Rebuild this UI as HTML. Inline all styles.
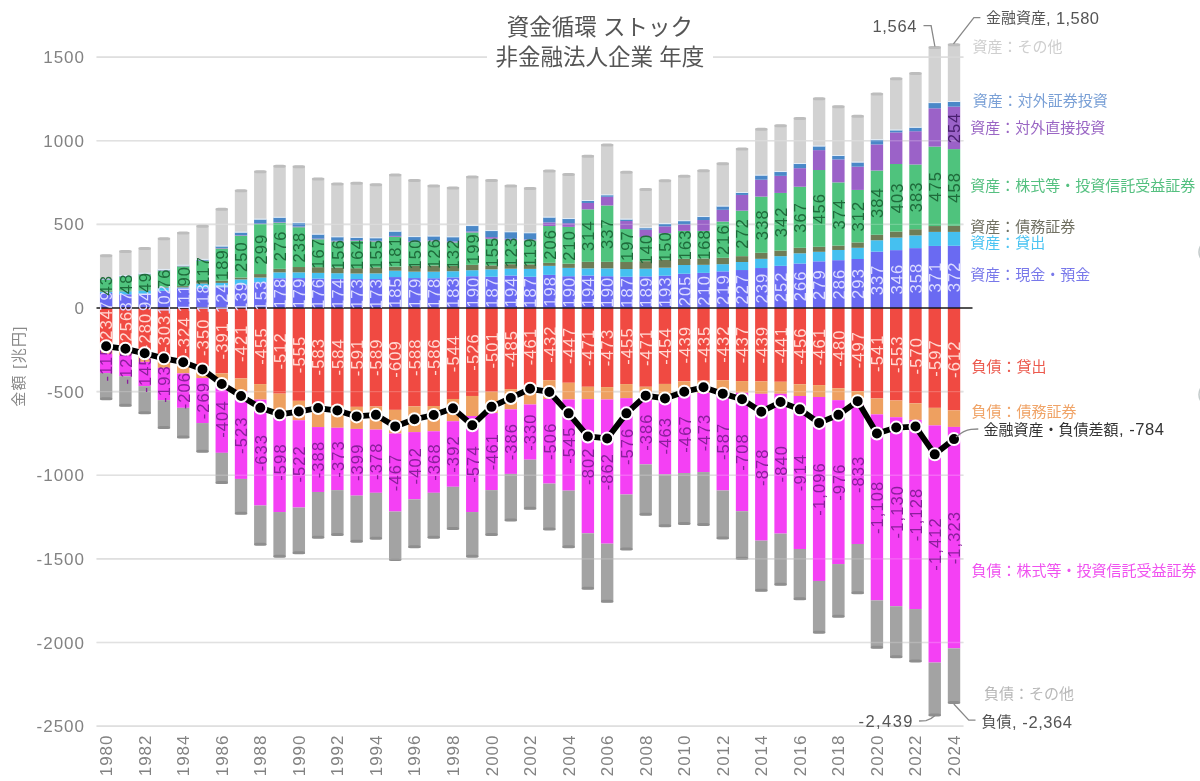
<!DOCTYPE html><html><head><meta charset="utf-8"><title>資金循環 ストック 非金融法人企業 年度</title>
<style>html,body{margin:0;padding:0;background:#fff;}svg{display:block;filter:blur(0.6px);}text{font-family:"Liberation Sans", "Noto Sans CJK JP", sans-serif;}</style></head><body>
<svg width="1200" height="781" viewBox="0 0 1200 781">
<rect width="1200" height="781" fill="#fff"/>
<g stroke="#dadada" stroke-width="1.6">
<line x1="96.5" x2="963.5" y1="57.12" y2="57.12"/>
<line x1="96.5" x2="963.5" y1="140.75" y2="140.75"/>
<line x1="96.5" x2="963.5" y1="224.38" y2="224.38"/>
<line x1="96.5" x2="963.5" y1="391.62" y2="391.62"/>
<line x1="96.5" x2="963.5" y1="475.25" y2="475.25"/>
<line x1="96.5" x2="963.5" y1="558.88" y2="558.88"/>
<line x1="96.5" x2="963.5" y1="642.50" y2="642.50"/>
<line x1="96.5" x2="963.5" y1="726.12" y2="726.12"/>
</g>
<g fill="#828282" font-size="17" text-anchor="end">
<text x="85" y="57.62" dominant-baseline="central" letter-spacing="1">1500</text>
<text x="85" y="141.25" dominant-baseline="central" letter-spacing="1">1000</text>
<text x="85" y="224.88" dominant-baseline="central" letter-spacing="1">500</text>
<text x="85" y="308.50" dominant-baseline="central" letter-spacing="1">0</text>
<text x="85" y="392.12" dominant-baseline="central" letter-spacing="1">-500</text>
<text x="85" y="475.75" dominant-baseline="central" letter-spacing="1">-1000</text>
<text x="85" y="559.38" dominant-baseline="central" letter-spacing="1">-1500</text>
<text x="85" y="643.00" dominant-baseline="central" letter-spacing="1">-2000</text>
<text x="85" y="726.62" dominant-baseline="central" letter-spacing="1">-2500</text>
</g>
<text transform="translate(18,366) rotate(-90)" text-anchor="middle" dominant-baseline="central" font-size="15" letter-spacing="1.3" fill="#8a8a8a" font-family='"Liberation Sans", "Noto Sans CJK JP", sans-serif'>金額 [兆円]</text>
<g><rect x="99.94" y="292.95" width="12.40" height="15.05" fill="#6a6af2"/><rect x="99.94" y="291.61" width="12.40" height="1.34" fill="#45c0f0"/><rect x="99.94" y="290.77" width="12.40" height="0.84" fill="#6e7c56"/><rect x="99.94" y="279.90" width="12.40" height="10.87" fill="#4fc37d"/><rect x="99.94" y="279.57" width="12.40" height="0.33" fill="#9b62c8"/><rect x="99.94" y="279.07" width="12.40" height="0.50" fill="#4a88c8"/><rect x="99.94" y="254.65" width="12.40" height="24.42" fill="#d2d2d2"/><rect x="99.94" y="308.00" width="12.40" height="39.14" fill="#f04a42"/><rect x="99.94" y="347.14" width="12.40" height="6.69" fill="#eea060"/><rect x="99.94" y="353.83" width="12.40" height="19.23" fill="#f440f4"/><rect x="99.94" y="373.06" width="12.40" height="26.59" fill="#a3a3a3"/><rect x="99.94" y="278.27" width="12.40" height="1" fill="#e6f2ff" opacity="0.8"/><rect x="99.94" y="254.15" width="12.40" height="3" rx="2.5" fill="#bdbdbd"/><rect x="99.94" y="397.15" width="12.40" height="3" rx="2.5" fill="#8e8e8e"/><rect x="119.20" y="294.29" width="12.40" height="13.71" fill="#6a6af2"/><rect x="119.20" y="291.27" width="12.40" height="3.01" fill="#45c0f0"/><rect x="119.20" y="290.77" width="12.40" height="0.50" fill="#6e7c56"/><rect x="119.20" y="276.72" width="12.40" height="14.05" fill="#4fc37d"/><rect x="119.20" y="276.39" width="12.40" height="0.33" fill="#9b62c8"/><rect x="119.20" y="275.89" width="12.40" height="0.50" fill="#4a88c8"/><rect x="119.20" y="250.47" width="12.40" height="25.42" fill="#d2d2d2"/><rect x="119.20" y="308.00" width="12.40" height="42.82" fill="#f04a42"/><rect x="119.20" y="350.82" width="12.40" height="4.52" fill="#eea060"/><rect x="119.20" y="355.33" width="12.40" height="20.91" fill="#f440f4"/><rect x="119.20" y="376.24" width="12.40" height="30.11" fill="#a3a3a3"/><rect x="119.20" y="275.09" width="12.40" height="1" fill="#e6f2ff" opacity="0.8"/><rect x="119.20" y="249.97" width="12.40" height="3" rx="2.5" fill="#bdbdbd"/><rect x="119.20" y="403.84" width="12.40" height="3" rx="2.5" fill="#8e8e8e"/><rect x="138.48" y="293.62" width="12.40" height="14.38" fill="#6a6af2"/><rect x="138.48" y="290.44" width="12.40" height="3.18" fill="#45c0f0"/><rect x="138.48" y="289.94" width="12.40" height="0.50" fill="#6e7c56"/><rect x="138.48" y="274.38" width="12.40" height="15.55" fill="#4fc37d"/><rect x="138.48" y="274.05" width="12.40" height="0.33" fill="#9b62c8"/><rect x="138.48" y="273.55" width="12.40" height="0.50" fill="#4a88c8"/><rect x="138.48" y="247.46" width="12.40" height="26.09" fill="#d2d2d2"/><rect x="138.48" y="308.00" width="12.40" height="46.83" fill="#f04a42"/><rect x="138.48" y="354.83" width="12.40" height="7.02" fill="#eea060"/><rect x="138.48" y="361.85" width="12.40" height="24.25" fill="#f440f4"/><rect x="138.48" y="386.11" width="12.40" height="27.76" fill="#a3a3a3"/><rect x="138.48" y="272.75" width="12.40" height="1" fill="#e6f2ff" opacity="0.8"/><rect x="138.48" y="246.96" width="12.40" height="3" rx="2.5" fill="#bdbdbd"/><rect x="138.48" y="411.37" width="12.40" height="3" rx="2.5" fill="#8e8e8e"/><rect x="157.75" y="290.77" width="12.40" height="17.23" fill="#6a6af2"/><rect x="157.75" y="287.60" width="12.40" height="3.18" fill="#45c0f0"/><rect x="157.75" y="286.93" width="12.40" height="0.67" fill="#6e7c56"/><rect x="157.75" y="270.54" width="12.40" height="16.39" fill="#4fc37d"/><rect x="157.75" y="270.20" width="12.40" height="0.33" fill="#9b62c8"/><rect x="157.75" y="269.70" width="12.40" height="0.50" fill="#4a88c8"/><rect x="157.75" y="237.75" width="12.40" height="31.94" fill="#d2d2d2"/><rect x="157.75" y="308.00" width="12.40" height="50.68" fill="#f04a42"/><rect x="157.75" y="358.68" width="12.40" height="9.20" fill="#eea060"/><rect x="157.75" y="367.88" width="12.40" height="32.28" fill="#f440f4"/><rect x="157.75" y="400.15" width="12.40" height="28.43" fill="#a3a3a3"/><rect x="157.75" y="268.90" width="12.40" height="1" fill="#e6f2ff" opacity="0.8"/><rect x="157.75" y="237.25" width="12.40" height="3" rx="2.5" fill="#bdbdbd"/><rect x="157.75" y="426.09" width="12.40" height="3" rx="2.5" fill="#8e8e8e"/><rect x="177.02" y="288.26" width="12.40" height="19.74" fill="#6a6af2"/><rect x="177.02" y="287.43" width="12.40" height="0.84" fill="#45c0f0"/><rect x="177.02" y="286.09" width="12.40" height="1.34" fill="#6e7c56"/><rect x="177.02" y="266.35" width="12.40" height="19.74" fill="#4fc37d"/><rect x="177.02" y="266.02" width="12.40" height="0.33" fill="#9b62c8"/><rect x="177.02" y="265.52" width="12.40" height="0.50" fill="#4a88c8"/><rect x="177.02" y="232.07" width="12.40" height="33.45" fill="#d2d2d2"/><rect x="177.02" y="308.00" width="12.40" height="54.19" fill="#f04a42"/><rect x="177.02" y="362.19" width="12.40" height="11.21" fill="#eea060"/><rect x="177.02" y="373.39" width="12.40" height="34.45" fill="#f440f4"/><rect x="177.02" y="407.85" width="12.40" height="30.27" fill="#a3a3a3"/><rect x="177.02" y="264.72" width="12.40" height="1" fill="#e6f2ff" opacity="0.8"/><rect x="177.02" y="231.57" width="12.40" height="3" rx="2.5" fill="#bdbdbd"/><rect x="177.02" y="435.62" width="12.40" height="3" rx="2.5" fill="#8e8e8e"/><rect x="196.29" y="288.26" width="12.40" height="19.74" fill="#6a6af2"/><rect x="196.29" y="283.58" width="12.40" height="4.68" fill="#45c0f0"/><rect x="196.29" y="280.74" width="12.40" height="2.84" fill="#6e7c56"/><rect x="196.29" y="261.00" width="12.40" height="19.74" fill="#4fc37d"/><rect x="196.29" y="260.67" width="12.40" height="0.33" fill="#9b62c8"/><rect x="196.29" y="259.66" width="12.40" height="1.00" fill="#4a88c8"/><rect x="196.29" y="225.21" width="12.40" height="34.45" fill="#d2d2d2"/><rect x="196.29" y="308.00" width="12.40" height="58.54" fill="#f04a42"/><rect x="196.29" y="366.54" width="12.40" height="11.54" fill="#eea060"/><rect x="196.29" y="378.08" width="12.40" height="44.99" fill="#f440f4"/><rect x="196.29" y="423.07" width="12.40" height="29.10" fill="#a3a3a3"/><rect x="196.29" y="258.86" width="12.40" height="1" fill="#e6f2ff" opacity="0.8"/><rect x="196.29" y="224.71" width="12.40" height="3" rx="2.5" fill="#bdbdbd"/><rect x="196.29" y="449.67" width="12.40" height="3" rx="2.5" fill="#8e8e8e"/><rect x="215.56" y="287.26" width="12.40" height="20.74" fill="#6a6af2"/><rect x="215.56" y="282.91" width="12.40" height="4.35" fill="#45c0f0"/><rect x="215.56" y="280.74" width="12.40" height="2.17" fill="#6e7c56"/><rect x="215.56" y="248.46" width="12.40" height="32.28" fill="#4fc37d"/><rect x="215.56" y="247.96" width="12.40" height="0.50" fill="#9b62c8"/><rect x="215.56" y="246.28" width="12.40" height="1.67" fill="#4a88c8"/><rect x="215.56" y="208.32" width="12.40" height="37.97" fill="#d2d2d2"/><rect x="215.56" y="308.00" width="12.40" height="65.39" fill="#f04a42"/><rect x="215.56" y="373.39" width="12.40" height="11.87" fill="#eea060"/><rect x="215.56" y="385.27" width="12.40" height="67.57" fill="#f440f4"/><rect x="215.56" y="452.84" width="12.40" height="30.77" fill="#a3a3a3"/><rect x="215.56" y="245.48" width="12.40" height="1" fill="#e6f2ff" opacity="0.8"/><rect x="215.56" y="207.82" width="12.40" height="3" rx="2.5" fill="#bdbdbd"/><rect x="215.56" y="481.11" width="12.40" height="3" rx="2.5" fill="#8e8e8e"/><rect x="234.83" y="284.75" width="12.40" height="23.25" fill="#6a6af2"/><rect x="234.83" y="279.40" width="12.40" height="5.35" fill="#45c0f0"/><rect x="234.83" y="277.56" width="12.40" height="1.84" fill="#6e7c56"/><rect x="234.83" y="235.75" width="12.40" height="41.81" fill="#4fc37d"/><rect x="234.83" y="235.25" width="12.40" height="0.50" fill="#9b62c8"/><rect x="234.83" y="232.40" width="12.40" height="2.84" fill="#4a88c8"/><rect x="234.83" y="189.75" width="12.40" height="42.65" fill="#d2d2d2"/><rect x="234.83" y="308.00" width="12.40" height="70.41" fill="#f04a42"/><rect x="234.83" y="378.41" width="12.40" height="13.05" fill="#eea060"/><rect x="234.83" y="391.46" width="12.40" height="87.47" fill="#f440f4"/><rect x="234.83" y="478.93" width="12.40" height="35.29" fill="#a3a3a3"/><rect x="234.83" y="231.60" width="12.40" height="1" fill="#e6f2ff" opacity="0.8"/><rect x="234.83" y="189.25" width="12.40" height="3" rx="2.5" fill="#bdbdbd"/><rect x="234.83" y="511.72" width="12.40" height="3" rx="2.5" fill="#8e8e8e"/><rect x="254.09" y="282.41" width="12.40" height="25.59" fill="#6a6af2"/><rect x="254.09" y="277.56" width="12.40" height="4.85" fill="#45c0f0"/><rect x="254.09" y="274.05" width="12.40" height="3.51" fill="#6e7c56"/><rect x="254.09" y="224.04" width="12.40" height="50.01" fill="#4fc37d"/><rect x="254.09" y="223.54" width="12.40" height="0.50" fill="#9b62c8"/><rect x="254.09" y="219.36" width="12.40" height="4.18" fill="#4a88c8"/><rect x="254.09" y="170.69" width="12.40" height="48.67" fill="#d2d2d2"/><rect x="254.09" y="308.00" width="12.40" height="76.10" fill="#f04a42"/><rect x="254.09" y="384.10" width="12.40" height="15.55" fill="#eea060"/><rect x="254.09" y="399.65" width="12.40" height="105.87" fill="#f440f4"/><rect x="254.09" y="505.52" width="12.40" height="39.64" fill="#a3a3a3"/><rect x="254.09" y="218.56" width="12.40" height="1" fill="#e6f2ff" opacity="0.8"/><rect x="254.09" y="170.19" width="12.40" height="3" rx="2.5" fill="#bdbdbd"/><rect x="254.09" y="542.66" width="12.40" height="3" rx="2.5" fill="#8e8e8e"/><rect x="273.37" y="278.23" width="12.40" height="29.77" fill="#6a6af2"/><rect x="273.37" y="272.38" width="12.40" height="5.85" fill="#45c0f0"/><rect x="273.37" y="268.86" width="12.40" height="3.51" fill="#6e7c56"/><rect x="273.37" y="222.70" width="12.40" height="46.16" fill="#4fc37d"/><rect x="273.37" y="222.20" width="12.40" height="0.50" fill="#9b62c8"/><rect x="273.37" y="217.52" width="12.40" height="4.68" fill="#4a88c8"/><rect x="273.37" y="165.17" width="12.40" height="52.35" fill="#d2d2d2"/><rect x="273.37" y="308.00" width="12.40" height="85.63" fill="#f04a42"/><rect x="273.37" y="393.63" width="12.40" height="18.40" fill="#eea060"/><rect x="273.37" y="412.03" width="12.40" height="100.02" fill="#f440f4"/><rect x="273.37" y="512.05" width="12.40" height="45.16" fill="#a3a3a3"/><rect x="273.37" y="216.72" width="12.40" height="1" fill="#e6f2ff" opacity="0.8"/><rect x="273.37" y="164.67" width="12.40" height="3" rx="2.5" fill="#bdbdbd"/><rect x="273.37" y="554.70" width="12.40" height="3" rx="2.5" fill="#8e8e8e"/><rect x="292.64" y="278.06" width="12.40" height="29.94" fill="#6a6af2"/><rect x="292.64" y="272.38" width="12.40" height="5.69" fill="#45c0f0"/><rect x="292.64" y="267.02" width="12.40" height="5.35" fill="#6e7c56"/><rect x="292.64" y="227.22" width="12.40" height="39.81" fill="#4fc37d"/><rect x="292.64" y="226.55" width="12.40" height="0.67" fill="#9b62c8"/><rect x="292.64" y="223.04" width="12.40" height="3.51" fill="#4a88c8"/><rect x="292.64" y="165.67" width="12.40" height="57.37" fill="#d2d2d2"/><rect x="292.64" y="308.00" width="12.40" height="92.82" fill="#f04a42"/><rect x="292.64" y="400.82" width="12.40" height="19.40" fill="#eea060"/><rect x="292.64" y="420.22" width="12.40" height="87.30" fill="#f440f4"/><rect x="292.64" y="507.53" width="12.40" height="46.33" fill="#a3a3a3"/><rect x="292.64" y="222.24" width="12.40" height="1" fill="#e6f2ff" opacity="0.8"/><rect x="292.64" y="165.17" width="12.40" height="3" rx="2.5" fill="#bdbdbd"/><rect x="292.64" y="551.36" width="12.40" height="3" rx="2.5" fill="#8e8e8e"/><rect x="311.91" y="278.56" width="12.40" height="29.44" fill="#6a6af2"/><rect x="311.91" y="272.88" width="12.40" height="5.69" fill="#45c0f0"/><rect x="311.91" y="267.19" width="12.40" height="5.69" fill="#6e7c56"/><rect x="311.91" y="239.26" width="12.40" height="27.93" fill="#4fc37d"/><rect x="311.91" y="238.59" width="12.40" height="0.67" fill="#9b62c8"/><rect x="311.91" y="234.41" width="12.40" height="4.18" fill="#4a88c8"/><rect x="311.91" y="177.88" width="12.40" height="56.53" fill="#d2d2d2"/><rect x="311.91" y="308.00" width="12.40" height="97.51" fill="#f04a42"/><rect x="311.91" y="405.51" width="12.40" height="21.58" fill="#eea060"/><rect x="311.91" y="427.08" width="12.40" height="64.89" fill="#f440f4"/><rect x="311.91" y="491.98" width="12.40" height="46.16" fill="#a3a3a3"/><rect x="311.91" y="233.61" width="12.40" height="1" fill="#e6f2ff" opacity="0.8"/><rect x="311.91" y="177.38" width="12.40" height="3" rx="2.5" fill="#bdbdbd"/><rect x="311.91" y="535.64" width="12.40" height="3" rx="2.5" fill="#8e8e8e"/><rect x="331.18" y="278.90" width="12.40" height="29.10" fill="#6a6af2"/><rect x="331.18" y="273.21" width="12.40" height="5.69" fill="#45c0f0"/><rect x="331.18" y="267.53" width="12.40" height="5.69" fill="#6e7c56"/><rect x="331.18" y="241.43" width="12.40" height="26.09" fill="#4fc37d"/><rect x="331.18" y="240.77" width="12.40" height="0.67" fill="#9b62c8"/><rect x="331.18" y="237.09" width="12.40" height="3.68" fill="#4a88c8"/><rect x="331.18" y="183.06" width="12.40" height="54.02" fill="#d2d2d2"/><rect x="331.18" y="308.00" width="12.40" height="97.67" fill="#f04a42"/><rect x="331.18" y="405.67" width="12.40" height="22.08" fill="#eea060"/><rect x="331.18" y="427.75" width="12.40" height="62.38" fill="#f440f4"/><rect x="331.18" y="490.14" width="12.40" height="45.32" fill="#a3a3a3"/><rect x="331.18" y="236.29" width="12.40" height="1" fill="#e6f2ff" opacity="0.8"/><rect x="331.18" y="182.56" width="12.40" height="3" rx="2.5" fill="#bdbdbd"/><rect x="331.18" y="532.96" width="12.40" height="3" rx="2.5" fill="#8e8e8e"/><rect x="350.44" y="279.07" width="12.40" height="28.93" fill="#6a6af2"/><rect x="350.44" y="273.55" width="12.40" height="5.52" fill="#45c0f0"/><rect x="350.44" y="268.19" width="12.40" height="5.35" fill="#6e7c56"/><rect x="350.44" y="240.77" width="12.40" height="27.43" fill="#4fc37d"/><rect x="350.44" y="240.10" width="12.40" height="0.67" fill="#9b62c8"/><rect x="350.44" y="237.59" width="12.40" height="2.51" fill="#4a88c8"/><rect x="350.44" y="182.23" width="12.40" height="55.36" fill="#d2d2d2"/><rect x="350.44" y="308.00" width="12.40" height="98.84" fill="#f04a42"/><rect x="350.44" y="406.84" width="12.40" height="22.08" fill="#eea060"/><rect x="350.44" y="428.92" width="12.40" height="66.73" fill="#f440f4"/><rect x="350.44" y="495.65" width="12.40" height="46.50" fill="#a3a3a3"/><rect x="350.44" y="236.79" width="12.40" height="1" fill="#e6f2ff" opacity="0.8"/><rect x="350.44" y="181.73" width="12.40" height="3" rx="2.5" fill="#bdbdbd"/><rect x="350.44" y="539.65" width="12.40" height="3" rx="2.5" fill="#8e8e8e"/><rect x="369.72" y="279.07" width="12.40" height="28.93" fill="#6a6af2"/><rect x="369.72" y="273.38" width="12.40" height="5.69" fill="#45c0f0"/><rect x="369.72" y="267.36" width="12.40" height="6.02" fill="#6e7c56"/><rect x="369.72" y="241.43" width="12.40" height="25.92" fill="#4fc37d"/><rect x="369.72" y="240.77" width="12.40" height="0.67" fill="#9b62c8"/><rect x="369.72" y="238.09" width="12.40" height="2.68" fill="#4a88c8"/><rect x="369.72" y="183.73" width="12.40" height="54.36" fill="#d2d2d2"/><rect x="369.72" y="308.00" width="12.40" height="98.51" fill="#f04a42"/><rect x="369.72" y="406.51" width="12.40" height="23.08" fill="#eea060"/><rect x="369.72" y="429.59" width="12.40" height="63.22" fill="#f440f4"/><rect x="369.72" y="492.81" width="12.40" height="46.33" fill="#a3a3a3"/><rect x="369.72" y="237.29" width="12.40" height="1" fill="#e6f2ff" opacity="0.8"/><rect x="369.72" y="183.23" width="12.40" height="3" rx="2.5" fill="#bdbdbd"/><rect x="369.72" y="536.64" width="12.40" height="3" rx="2.5" fill="#8e8e8e"/><rect x="388.99" y="277.06" width="12.40" height="30.94" fill="#6a6af2"/><rect x="388.99" y="270.70" width="12.40" height="6.36" fill="#45c0f0"/><rect x="388.99" y="266.69" width="12.40" height="4.01" fill="#6e7c56"/><rect x="388.99" y="236.75" width="12.40" height="29.94" fill="#4fc37d"/><rect x="388.99" y="235.92" width="12.40" height="0.84" fill="#9b62c8"/><rect x="388.99" y="231.40" width="12.40" height="4.52" fill="#4a88c8"/><rect x="388.99" y="174.03" width="12.40" height="57.37" fill="#d2d2d2"/><rect x="388.99" y="308.00" width="12.40" height="101.86" fill="#f04a42"/><rect x="388.99" y="409.86" width="12.40" height="23.58" fill="#eea060"/><rect x="388.99" y="433.44" width="12.40" height="78.11" fill="#f440f4"/><rect x="388.99" y="511.54" width="12.40" height="48.84" fill="#a3a3a3"/><rect x="388.99" y="230.60" width="12.40" height="1" fill="#e6f2ff" opacity="0.8"/><rect x="388.99" y="173.53" width="12.40" height="3" rx="2.5" fill="#bdbdbd"/><rect x="388.99" y="557.88" width="12.40" height="3" rx="2.5" fill="#8e8e8e"/><rect x="408.25" y="278.06" width="12.40" height="29.94" fill="#6a6af2"/><rect x="408.25" y="271.71" width="12.40" height="6.36" fill="#45c0f0"/><rect x="408.25" y="265.85" width="12.40" height="5.85" fill="#6e7c56"/><rect x="408.25" y="242.10" width="12.40" height="23.75" fill="#4fc37d"/><rect x="408.25" y="241.27" width="12.40" height="0.84" fill="#9b62c8"/><rect x="408.25" y="236.92" width="12.40" height="4.35" fill="#4a88c8"/><rect x="408.25" y="179.38" width="12.40" height="57.53" fill="#d2d2d2"/><rect x="408.25" y="308.00" width="12.40" height="98.34" fill="#f04a42"/><rect x="408.25" y="406.34" width="12.40" height="25.76" fill="#eea060"/><rect x="408.25" y="432.10" width="12.40" height="67.23" fill="#f440f4"/><rect x="408.25" y="499.33" width="12.40" height="48.50" fill="#a3a3a3"/><rect x="408.25" y="236.12" width="12.40" height="1" fill="#e6f2ff" opacity="0.8"/><rect x="408.25" y="178.88" width="12.40" height="3" rx="2.5" fill="#bdbdbd"/><rect x="408.25" y="545.34" width="12.40" height="3" rx="2.5" fill="#8e8e8e"/><rect x="427.52" y="278.23" width="12.40" height="29.77" fill="#6a6af2"/><rect x="427.52" y="271.71" width="12.40" height="6.52" fill="#45c0f0"/><rect x="427.52" y="265.52" width="12.40" height="6.19" fill="#6e7c56"/><rect x="427.52" y="241.27" width="12.40" height="24.25" fill="#4fc37d"/><rect x="427.52" y="240.43" width="12.40" height="0.84" fill="#9b62c8"/><rect x="427.52" y="236.25" width="12.40" height="4.18" fill="#4a88c8"/><rect x="427.52" y="184.90" width="12.40" height="51.35" fill="#d2d2d2"/><rect x="427.52" y="308.00" width="12.40" height="98.01" fill="#f04a42"/><rect x="427.52" y="406.01" width="12.40" height="25.25" fill="#eea060"/><rect x="427.52" y="431.26" width="12.40" height="61.55" fill="#f440f4"/><rect x="427.52" y="492.81" width="12.40" height="45.32" fill="#a3a3a3"/><rect x="427.52" y="235.45" width="12.40" height="1" fill="#e6f2ff" opacity="0.8"/><rect x="427.52" y="184.40" width="12.40" height="3" rx="2.5" fill="#bdbdbd"/><rect x="427.52" y="535.64" width="12.40" height="3" rx="2.5" fill="#8e8e8e"/><rect x="446.80" y="277.39" width="12.40" height="30.61" fill="#6a6af2"/><rect x="446.80" y="271.20" width="12.40" height="6.19" fill="#45c0f0"/><rect x="446.80" y="265.85" width="12.40" height="5.35" fill="#6e7c56"/><rect x="446.80" y="242.44" width="12.40" height="23.42" fill="#4fc37d"/><rect x="446.80" y="241.43" width="12.40" height="1.00" fill="#9b62c8"/><rect x="446.80" y="237.09" width="12.40" height="4.35" fill="#4a88c8"/><rect x="446.80" y="186.91" width="12.40" height="50.18" fill="#d2d2d2"/><rect x="446.80" y="308.00" width="12.40" height="90.98" fill="#f04a42"/><rect x="446.80" y="398.98" width="12.40" height="22.24" fill="#eea060"/><rect x="446.80" y="421.23" width="12.40" height="65.56" fill="#f440f4"/><rect x="446.80" y="486.79" width="12.40" height="42.65" fill="#a3a3a3"/><rect x="446.80" y="236.29" width="12.40" height="1" fill="#e6f2ff" opacity="0.8"/><rect x="446.80" y="186.41" width="12.40" height="3" rx="2.5" fill="#bdbdbd"/><rect x="446.80" y="526.94" width="12.40" height="3" rx="2.5" fill="#8e8e8e"/><rect x="466.06" y="276.22" width="12.40" height="31.78" fill="#6a6af2"/><rect x="466.06" y="270.20" width="12.40" height="6.02" fill="#45c0f0"/><rect x="466.06" y="264.85" width="12.40" height="5.35" fill="#6e7c56"/><rect x="466.06" y="232.40" width="12.40" height="32.45" fill="#4fc37d"/><rect x="466.06" y="231.40" width="12.40" height="1.00" fill="#9b62c8"/><rect x="466.06" y="225.88" width="12.40" height="5.52" fill="#4a88c8"/><rect x="466.06" y="176.04" width="12.40" height="49.84" fill="#d2d2d2"/><rect x="466.06" y="308.00" width="12.40" height="87.97" fill="#f04a42"/><rect x="466.06" y="395.97" width="12.40" height="20.07" fill="#eea060"/><rect x="466.06" y="416.04" width="12.40" height="96.00" fill="#f440f4"/><rect x="466.06" y="512.05" width="12.40" height="45.16" fill="#a3a3a3"/><rect x="466.06" y="225.08" width="12.40" height="1" fill="#e6f2ff" opacity="0.8"/><rect x="466.06" y="175.54" width="12.40" height="3" rx="2.5" fill="#bdbdbd"/><rect x="466.06" y="554.70" width="12.40" height="3" rx="2.5" fill="#8e8e8e"/><rect x="485.33" y="276.72" width="12.40" height="31.28" fill="#6a6af2"/><rect x="485.33" y="269.37" width="12.40" height="7.36" fill="#45c0f0"/><rect x="485.33" y="265.35" width="12.40" height="4.01" fill="#6e7c56"/><rect x="485.33" y="238.76" width="12.40" height="26.59" fill="#4fc37d"/><rect x="485.33" y="237.09" width="12.40" height="1.67" fill="#9b62c8"/><rect x="485.33" y="230.90" width="12.40" height="6.19" fill="#4a88c8"/><rect x="485.33" y="179.38" width="12.40" height="51.51" fill="#d2d2d2"/><rect x="485.33" y="308.00" width="12.40" height="83.79" fill="#f04a42"/><rect x="485.33" y="391.79" width="12.40" height="21.24" fill="#eea060"/><rect x="485.33" y="413.03" width="12.40" height="77.10" fill="#f440f4"/><rect x="485.33" y="490.14" width="12.40" height="45.32" fill="#a3a3a3"/><rect x="485.33" y="230.10" width="12.40" height="1" fill="#e6f2ff" opacity="0.8"/><rect x="485.33" y="178.88" width="12.40" height="3" rx="2.5" fill="#bdbdbd"/><rect x="485.33" y="532.96" width="12.40" height="3" rx="2.5" fill="#8e8e8e"/><rect x="504.61" y="275.55" width="12.40" height="32.45" fill="#6a6af2"/><rect x="504.61" y="268.70" width="12.40" height="6.86" fill="#45c0f0"/><rect x="504.61" y="264.18" width="12.40" height="4.52" fill="#6e7c56"/><rect x="504.61" y="240.10" width="12.40" height="24.08" fill="#4fc37d"/><rect x="504.61" y="238.76" width="12.40" height="1.34" fill="#9b62c8"/><rect x="504.61" y="232.07" width="12.40" height="6.69" fill="#4a88c8"/><rect x="504.61" y="184.90" width="12.40" height="47.16" fill="#d2d2d2"/><rect x="504.61" y="308.00" width="12.40" height="81.12" fill="#f04a42"/><rect x="504.61" y="389.12" width="12.40" height="20.24" fill="#eea060"/><rect x="504.61" y="409.35" width="12.40" height="64.56" fill="#f440f4"/><rect x="504.61" y="473.91" width="12.40" height="47.16" fill="#a3a3a3"/><rect x="504.61" y="231.27" width="12.40" height="1" fill="#e6f2ff" opacity="0.8"/><rect x="504.61" y="184.40" width="12.40" height="3" rx="2.5" fill="#bdbdbd"/><rect x="504.61" y="518.58" width="12.40" height="3" rx="2.5" fill="#8e8e8e"/><rect x="523.88" y="276.72" width="12.40" height="31.28" fill="#6a6af2"/><rect x="523.88" y="268.86" width="12.40" height="7.86" fill="#45c0f0"/><rect x="523.88" y="264.35" width="12.40" height="4.52" fill="#6e7c56"/><rect x="523.88" y="240.43" width="12.40" height="23.92" fill="#4fc37d"/><rect x="523.88" y="239.43" width="12.40" height="1.00" fill="#9b62c8"/><rect x="523.88" y="233.07" width="12.40" height="6.36" fill="#4a88c8"/><rect x="523.88" y="187.41" width="12.40" height="45.66" fill="#d2d2d2"/><rect x="523.88" y="308.00" width="12.40" height="77.10" fill="#f04a42"/><rect x="523.88" y="385.10" width="12.40" height="19.40" fill="#eea060"/><rect x="523.88" y="404.50" width="12.40" height="55.19" fill="#f440f4"/><rect x="523.88" y="459.70" width="12.40" height="49.67" fill="#a3a3a3"/><rect x="523.88" y="232.27" width="12.40" height="1" fill="#e6f2ff" opacity="0.8"/><rect x="523.88" y="186.91" width="12.40" height="3" rx="2.5" fill="#bdbdbd"/><rect x="523.88" y="506.87" width="12.40" height="3" rx="2.5" fill="#8e8e8e"/><rect x="543.14" y="274.88" width="12.40" height="33.12" fill="#6a6af2"/><rect x="543.14" y="265.85" width="12.40" height="9.03" fill="#45c0f0"/><rect x="543.14" y="262.84" width="12.40" height="3.01" fill="#6e7c56"/><rect x="543.14" y="226.05" width="12.40" height="36.79" fill="#4fc37d"/><rect x="543.14" y="222.37" width="12.40" height="3.68" fill="#9b62c8"/><rect x="543.14" y="217.35" width="12.40" height="5.02" fill="#4a88c8"/><rect x="543.14" y="170.02" width="12.40" height="47.33" fill="#d2d2d2"/><rect x="543.14" y="308.00" width="12.40" height="72.25" fill="#f04a42"/><rect x="543.14" y="380.25" width="12.40" height="18.73" fill="#eea060"/><rect x="543.14" y="398.98" width="12.40" height="84.63" fill="#f440f4"/><rect x="543.14" y="483.61" width="12.40" height="46.33" fill="#a3a3a3"/><rect x="543.14" y="216.55" width="12.40" height="1" fill="#e6f2ff" opacity="0.8"/><rect x="543.14" y="169.52" width="12.40" height="3" rx="2.5" fill="#bdbdbd"/><rect x="543.14" y="527.44" width="12.40" height="3" rx="2.5" fill="#8e8e8e"/><rect x="562.41" y="276.22" width="12.40" height="31.78" fill="#6a6af2"/><rect x="562.41" y="267.86" width="12.40" height="8.36" fill="#45c0f0"/><rect x="562.41" y="263.68" width="12.40" height="4.18" fill="#6e7c56"/><rect x="562.41" y="226.88" width="12.40" height="36.79" fill="#4fc37d"/><rect x="562.41" y="223.20" width="12.40" height="3.68" fill="#9b62c8"/><rect x="562.41" y="218.86" width="12.40" height="4.35" fill="#4a88c8"/><rect x="562.41" y="173.53" width="12.40" height="45.32" fill="#d2d2d2"/><rect x="562.41" y="308.00" width="12.40" height="74.76" fill="#f04a42"/><rect x="562.41" y="382.76" width="12.40" height="16.72" fill="#eea060"/><rect x="562.41" y="399.49" width="12.40" height="91.15" fill="#f440f4"/><rect x="562.41" y="490.64" width="12.40" height="57.20" fill="#a3a3a3"/><rect x="562.41" y="218.06" width="12.40" height="1" fill="#e6f2ff" opacity="0.8"/><rect x="562.41" y="173.03" width="12.40" height="3" rx="2.5" fill="#bdbdbd"/><rect x="562.41" y="545.34" width="12.40" height="3" rx="2.5" fill="#8e8e8e"/><rect x="581.68" y="275.55" width="12.40" height="32.45" fill="#6a6af2"/><rect x="581.68" y="268.36" width="12.40" height="7.19" fill="#45c0f0"/><rect x="581.68" y="261.84" width="12.40" height="6.52" fill="#6e7c56"/><rect x="581.68" y="209.32" width="12.40" height="52.52" fill="#4fc37d"/><rect x="581.68" y="202.97" width="12.40" height="6.36" fill="#9b62c8"/><rect x="581.68" y="200.79" width="12.40" height="2.17" fill="#4a88c8"/><rect x="581.68" y="155.13" width="12.40" height="45.66" fill="#d2d2d2"/><rect x="581.68" y="308.00" width="12.40" height="78.77" fill="#f04a42"/><rect x="581.68" y="386.77" width="12.40" height="12.38" fill="#eea060"/><rect x="581.68" y="399.15" width="12.40" height="134.13" fill="#f440f4"/><rect x="581.68" y="533.29" width="12.40" height="56.03" fill="#a3a3a3"/><rect x="581.68" y="199.99" width="12.40" height="1" fill="#e6f2ff" opacity="0.8"/><rect x="581.68" y="154.63" width="12.40" height="3" rx="2.5" fill="#bdbdbd"/><rect x="581.68" y="586.81" width="12.40" height="3" rx="2.5" fill="#8e8e8e"/><rect x="600.95" y="276.22" width="12.40" height="31.78" fill="#6a6af2"/><rect x="600.95" y="268.36" width="12.40" height="7.86" fill="#45c0f0"/><rect x="600.95" y="261.84" width="12.40" height="6.52" fill="#6e7c56"/><rect x="600.95" y="205.48" width="12.40" height="56.36" fill="#4fc37d"/><rect x="600.95" y="196.78" width="12.40" height="8.70" fill="#9b62c8"/><rect x="600.95" y="195.11" width="12.40" height="1.67" fill="#4a88c8"/><rect x="600.95" y="144.09" width="12.40" height="51.01" fill="#d2d2d2"/><rect x="600.95" y="308.00" width="12.40" height="79.11" fill="#f04a42"/><rect x="600.95" y="387.11" width="12.40" height="12.38" fill="#eea060"/><rect x="600.95" y="399.49" width="12.40" height="144.17" fill="#f440f4"/><rect x="600.95" y="543.66" width="12.40" height="58.70" fill="#a3a3a3"/><rect x="600.95" y="194.31" width="12.40" height="1" fill="#e6f2ff" opacity="0.8"/><rect x="600.95" y="143.59" width="12.40" height="3" rx="2.5" fill="#bdbdbd"/><rect x="600.95" y="599.86" width="12.40" height="3" rx="2.5" fill="#8e8e8e"/><rect x="620.22" y="276.72" width="12.40" height="31.28" fill="#6a6af2"/><rect x="620.22" y="269.03" width="12.40" height="7.69" fill="#45c0f0"/><rect x="620.22" y="262.01" width="12.40" height="7.02" fill="#6e7c56"/><rect x="620.22" y="229.06" width="12.40" height="32.95" fill="#4fc37d"/><rect x="620.22" y="221.03" width="12.40" height="8.03" fill="#9b62c8"/><rect x="620.22" y="219.36" width="12.40" height="1.67" fill="#4a88c8"/><rect x="620.22" y="171.36" width="12.40" height="48.00" fill="#d2d2d2"/><rect x="620.22" y="308.00" width="12.40" height="76.10" fill="#f04a42"/><rect x="620.22" y="384.10" width="12.40" height="14.05" fill="#eea060"/><rect x="620.22" y="398.15" width="12.40" height="96.34" fill="#f440f4"/><rect x="620.22" y="494.48" width="12.40" height="55.53" fill="#a3a3a3"/><rect x="620.22" y="218.56" width="12.40" height="1" fill="#e6f2ff" opacity="0.8"/><rect x="620.22" y="170.86" width="12.40" height="3" rx="2.5" fill="#bdbdbd"/><rect x="620.22" y="547.51" width="12.40" height="3" rx="2.5" fill="#8e8e8e"/><rect x="639.49" y="276.39" width="12.40" height="31.61" fill="#6a6af2"/><rect x="639.49" y="268.70" width="12.40" height="7.69" fill="#45c0f0"/><rect x="639.49" y="261.17" width="12.40" height="7.53" fill="#6e7c56"/><rect x="639.49" y="237.09" width="12.40" height="24.08" fill="#4fc37d"/><rect x="639.49" y="229.73" width="12.40" height="7.36" fill="#9b62c8"/><rect x="639.49" y="228.05" width="12.40" height="1.67" fill="#4a88c8"/><rect x="639.49" y="188.42" width="12.40" height="39.64" fill="#d2d2d2"/><rect x="639.49" y="308.00" width="12.40" height="78.77" fill="#f04a42"/><rect x="639.49" y="386.77" width="12.40" height="13.05" fill="#eea060"/><rect x="639.49" y="399.82" width="12.40" height="64.56" fill="#f440f4"/><rect x="639.49" y="464.38" width="12.40" height="50.84" fill="#a3a3a3"/><rect x="639.49" y="227.25" width="12.40" height="1" fill="#e6f2ff" opacity="0.8"/><rect x="639.49" y="187.92" width="12.40" height="3" rx="2.5" fill="#bdbdbd"/><rect x="639.49" y="512.72" width="12.40" height="3" rx="2.5" fill="#8e8e8e"/><rect x="658.76" y="275.72" width="12.40" height="32.28" fill="#6a6af2"/><rect x="658.76" y="267.69" width="12.40" height="8.03" fill="#45c0f0"/><rect x="658.76" y="259.83" width="12.40" height="7.86" fill="#6e7c56"/><rect x="658.76" y="233.24" width="12.40" height="26.59" fill="#4fc37d"/><rect x="658.76" y="226.38" width="12.40" height="6.86" fill="#9b62c8"/><rect x="658.76" y="223.71" width="12.40" height="2.68" fill="#4a88c8"/><rect x="658.76" y="179.72" width="12.40" height="43.99" fill="#d2d2d2"/><rect x="658.76" y="308.00" width="12.40" height="75.93" fill="#f04a42"/><rect x="658.76" y="383.93" width="12.40" height="13.05" fill="#eea060"/><rect x="658.76" y="396.98" width="12.40" height="77.44" fill="#f440f4"/><rect x="658.76" y="474.41" width="12.40" height="52.35" fill="#a3a3a3"/><rect x="658.76" y="222.91" width="12.40" height="1" fill="#e6f2ff" opacity="0.8"/><rect x="658.76" y="179.22" width="12.40" height="3" rx="2.5" fill="#bdbdbd"/><rect x="658.76" y="524.26" width="12.40" height="3" rx="2.5" fill="#8e8e8e"/><rect x="678.03" y="273.71" width="12.40" height="34.29" fill="#6a6af2"/><rect x="678.03" y="265.02" width="12.40" height="8.70" fill="#45c0f0"/><rect x="678.03" y="258.83" width="12.40" height="6.19" fill="#6e7c56"/><rect x="678.03" y="230.90" width="12.40" height="27.93" fill="#4fc37d"/><rect x="678.03" y="224.38" width="12.40" height="6.52" fill="#9b62c8"/><rect x="678.03" y="221.03" width="12.40" height="3.34" fill="#4a88c8"/><rect x="678.03" y="175.37" width="12.40" height="45.66" fill="#d2d2d2"/><rect x="678.03" y="308.00" width="12.40" height="73.42" fill="#f04a42"/><rect x="678.03" y="381.42" width="12.40" height="13.55" fill="#eea060"/><rect x="678.03" y="394.97" width="12.40" height="78.11" fill="#f440f4"/><rect x="678.03" y="473.08" width="12.40" height="51.35" fill="#a3a3a3"/><rect x="678.03" y="220.23" width="12.40" height="1" fill="#e6f2ff" opacity="0.8"/><rect x="678.03" y="174.87" width="12.40" height="3" rx="2.5" fill="#bdbdbd"/><rect x="678.03" y="521.92" width="12.40" height="3" rx="2.5" fill="#8e8e8e"/><rect x="697.30" y="272.88" width="12.40" height="35.12" fill="#6a6af2"/><rect x="697.30" y="264.85" width="12.40" height="8.03" fill="#45c0f0"/><rect x="697.30" y="258.49" width="12.40" height="6.36" fill="#6e7c56"/><rect x="697.30" y="230.90" width="12.40" height="27.60" fill="#4fc37d"/><rect x="697.30" y="220.03" width="12.40" height="10.87" fill="#9b62c8"/><rect x="697.30" y="216.85" width="12.40" height="3.18" fill="#4a88c8"/><rect x="697.30" y="169.85" width="12.40" height="47.00" fill="#d2d2d2"/><rect x="697.30" y="308.00" width="12.40" height="72.75" fill="#f04a42"/><rect x="697.30" y="380.75" width="12.40" height="12.21" fill="#eea060"/><rect x="697.30" y="392.96" width="12.40" height="79.11" fill="#f440f4"/><rect x="697.30" y="472.07" width="12.40" height="53.35" fill="#a3a3a3"/><rect x="697.30" y="216.05" width="12.40" height="1" fill="#e6f2ff" opacity="0.8"/><rect x="697.30" y="169.35" width="12.40" height="3" rx="2.5" fill="#bdbdbd"/><rect x="697.30" y="522.92" width="12.40" height="3" rx="2.5" fill="#8e8e8e"/><rect x="716.57" y="271.37" width="12.40" height="36.63" fill="#6a6af2"/><rect x="716.57" y="264.18" width="12.40" height="7.19" fill="#45c0f0"/><rect x="716.57" y="257.82" width="12.40" height="6.36" fill="#6e7c56"/><rect x="716.57" y="221.53" width="12.40" height="36.29" fill="#4fc37d"/><rect x="716.57" y="209.82" width="12.40" height="11.71" fill="#9b62c8"/><rect x="716.57" y="206.31" width="12.40" height="3.51" fill="#4a88c8"/><rect x="716.57" y="162.66" width="12.40" height="43.65" fill="#d2d2d2"/><rect x="716.57" y="308.00" width="12.40" height="72.25" fill="#f04a42"/><rect x="716.57" y="380.25" width="12.40" height="12.04" fill="#eea060"/><rect x="716.57" y="392.29" width="12.40" height="98.18" fill="#f440f4"/><rect x="716.57" y="490.47" width="12.40" height="48.50" fill="#a3a3a3"/><rect x="716.57" y="205.51" width="12.40" height="1" fill="#e6f2ff" opacity="0.8"/><rect x="716.57" y="162.16" width="12.40" height="3" rx="2.5" fill="#bdbdbd"/><rect x="716.57" y="536.47" width="12.40" height="3" rx="2.5" fill="#8e8e8e"/><rect x="735.84" y="270.03" width="12.40" height="37.97" fill="#6a6af2"/><rect x="735.84" y="262.01" width="12.40" height="8.03" fill="#45c0f0"/><rect x="735.84" y="256.15" width="12.40" height="5.85" fill="#6e7c56"/><rect x="735.84" y="210.66" width="12.40" height="45.49" fill="#4fc37d"/><rect x="735.84" y="194.94" width="12.40" height="15.72" fill="#9b62c8"/><rect x="735.84" y="192.76" width="12.40" height="2.17" fill="#4a88c8"/><rect x="735.84" y="148.11" width="12.40" height="44.66" fill="#d2d2d2"/><rect x="735.84" y="308.00" width="12.40" height="73.09" fill="#f04a42"/><rect x="735.84" y="381.09" width="12.40" height="11.71" fill="#eea060"/><rect x="735.84" y="392.80" width="12.40" height="118.41" fill="#f440f4"/><rect x="735.84" y="511.21" width="12.40" height="48.00" fill="#a3a3a3"/><rect x="735.84" y="191.96" width="12.40" height="1" fill="#e6f2ff" opacity="0.8"/><rect x="735.84" y="147.61" width="12.40" height="3" rx="2.5" fill="#bdbdbd"/><rect x="735.84" y="556.71" width="12.40" height="3" rx="2.5" fill="#8e8e8e"/><rect x="755.11" y="268.03" width="12.40" height="39.97" fill="#6a6af2"/><rect x="755.11" y="258.83" width="12.40" height="9.20" fill="#45c0f0"/><rect x="755.11" y="252.81" width="12.40" height="6.02" fill="#6e7c56"/><rect x="755.11" y="196.61" width="12.40" height="56.20" fill="#4fc37d"/><rect x="755.11" y="179.72" width="12.40" height="16.89" fill="#9b62c8"/><rect x="755.11" y="175.37" width="12.40" height="4.35" fill="#4a88c8"/><rect x="755.11" y="128.37" width="12.40" height="47.00" fill="#d2d2d2"/><rect x="755.11" y="308.00" width="12.40" height="73.42" fill="#f04a42"/><rect x="755.11" y="381.42" width="12.40" height="12.38" fill="#eea060"/><rect x="755.11" y="393.80" width="12.40" height="146.85" fill="#f440f4"/><rect x="755.11" y="540.64" width="12.40" height="50.68" fill="#a3a3a3"/><rect x="755.11" y="174.57" width="12.40" height="1" fill="#e6f2ff" opacity="0.8"/><rect x="755.11" y="127.87" width="12.40" height="3" rx="2.5" fill="#bdbdbd"/><rect x="755.11" y="588.82" width="12.40" height="3" rx="2.5" fill="#8e8e8e"/><rect x="774.38" y="265.85" width="12.40" height="42.15" fill="#6a6af2"/><rect x="774.38" y="256.15" width="12.40" height="9.70" fill="#45c0f0"/><rect x="774.38" y="250.63" width="12.40" height="5.52" fill="#6e7c56"/><rect x="774.38" y="192.93" width="12.40" height="57.70" fill="#4fc37d"/><rect x="774.38" y="175.87" width="12.40" height="17.06" fill="#9b62c8"/><rect x="774.38" y="171.86" width="12.40" height="4.01" fill="#4a88c8"/><rect x="774.38" y="124.69" width="12.40" height="47.16" fill="#d2d2d2"/><rect x="774.38" y="308.00" width="12.40" height="73.76" fill="#f04a42"/><rect x="774.38" y="381.76" width="12.40" height="12.04" fill="#eea060"/><rect x="774.38" y="393.80" width="12.40" height="139.82" fill="#f440f4"/><rect x="774.38" y="533.62" width="12.40" height="51.68" fill="#a3a3a3"/><rect x="774.38" y="171.06" width="12.40" height="1" fill="#e6f2ff" opacity="0.8"/><rect x="774.38" y="124.19" width="12.40" height="3" rx="2.5" fill="#bdbdbd"/><rect x="774.38" y="582.80" width="12.40" height="3" rx="2.5" fill="#8e8e8e"/><rect x="793.65" y="263.51" width="12.40" height="44.49" fill="#6a6af2"/><rect x="793.65" y="253.31" width="12.40" height="10.20" fill="#45c0f0"/><rect x="793.65" y="247.79" width="12.40" height="5.52" fill="#6e7c56"/><rect x="793.65" y="186.74" width="12.40" height="61.05" fill="#4fc37d"/><rect x="793.65" y="168.18" width="12.40" height="18.56" fill="#9b62c8"/><rect x="793.65" y="163.83" width="12.40" height="4.35" fill="#4a88c8"/><rect x="793.65" y="117.50" width="12.40" height="46.33" fill="#d2d2d2"/><rect x="793.65" y="308.00" width="12.40" height="76.27" fill="#f04a42"/><rect x="793.65" y="384.27" width="12.40" height="11.71" fill="#eea060"/><rect x="793.65" y="395.97" width="12.40" height="153.03" fill="#f440f4"/><rect x="793.65" y="549.01" width="12.40" height="50.84" fill="#a3a3a3"/><rect x="793.65" y="163.03" width="12.40" height="1" fill="#e6f2ff" opacity="0.8"/><rect x="793.65" y="117.00" width="12.40" height="3" rx="2.5" fill="#bdbdbd"/><rect x="793.65" y="597.35" width="12.40" height="3" rx="2.5" fill="#8e8e8e"/><rect x="812.92" y="261.34" width="12.40" height="46.66" fill="#6a6af2"/><rect x="812.92" y="251.80" width="12.40" height="9.53" fill="#45c0f0"/><rect x="812.92" y="246.79" width="12.40" height="5.02" fill="#6e7c56"/><rect x="812.92" y="170.02" width="12.40" height="76.77" fill="#4fc37d"/><rect x="812.92" y="150.12" width="12.40" height="19.90" fill="#9b62c8"/><rect x="812.92" y="146.27" width="12.40" height="3.85" fill="#4a88c8"/><rect x="812.92" y="97.77" width="12.40" height="48.50" fill="#d2d2d2"/><rect x="812.92" y="308.00" width="12.40" height="77.10" fill="#f04a42"/><rect x="812.92" y="385.10" width="12.40" height="11.87" fill="#eea060"/><rect x="812.92" y="396.98" width="12.40" height="183.98" fill="#f440f4"/><rect x="812.92" y="580.95" width="12.40" height="52.18" fill="#a3a3a3"/><rect x="812.92" y="145.47" width="12.40" height="1" fill="#e6f2ff" opacity="0.8"/><rect x="812.92" y="97.27" width="12.40" height="3" rx="2.5" fill="#bdbdbd"/><rect x="812.92" y="630.63" width="12.40" height="3" rx="2.5" fill="#8e8e8e"/><rect x="832.19" y="260.17" width="12.40" height="47.83" fill="#6a6af2"/><rect x="832.19" y="249.96" width="12.40" height="10.20" fill="#45c0f0"/><rect x="832.19" y="245.62" width="12.40" height="4.35" fill="#6e7c56"/><rect x="832.19" y="182.40" width="12.40" height="63.22" fill="#4fc37d"/><rect x="832.19" y="159.48" width="12.40" height="22.91" fill="#9b62c8"/><rect x="832.19" y="155.80" width="12.40" height="3.68" fill="#4a88c8"/><rect x="832.19" y="105.63" width="12.40" height="50.17" fill="#d2d2d2"/><rect x="832.19" y="308.00" width="12.40" height="80.28" fill="#f04a42"/><rect x="832.19" y="388.28" width="12.40" height="11.87" fill="#eea060"/><rect x="832.19" y="400.15" width="12.40" height="163.90" fill="#f440f4"/><rect x="832.19" y="564.06" width="12.40" height="53.19" fill="#a3a3a3"/><rect x="832.19" y="155.00" width="12.40" height="1" fill="#e6f2ff" opacity="0.8"/><rect x="832.19" y="105.13" width="12.40" height="3" rx="2.5" fill="#bdbdbd"/><rect x="832.19" y="614.75" width="12.40" height="3" rx="2.5" fill="#8e8e8e"/><rect x="851.46" y="259.00" width="12.40" height="49.00" fill="#6a6af2"/><rect x="851.46" y="247.79" width="12.40" height="11.21" fill="#45c0f0"/><rect x="851.46" y="242.44" width="12.40" height="5.35" fill="#6e7c56"/><rect x="851.46" y="189.92" width="12.40" height="52.52" fill="#4fc37d"/><rect x="851.46" y="166.67" width="12.40" height="23.25" fill="#9b62c8"/><rect x="851.46" y="162.33" width="12.40" height="4.35" fill="#4a88c8"/><rect x="851.46" y="115.33" width="12.40" height="47.00" fill="#d2d2d2"/><rect x="851.46" y="308.00" width="12.40" height="83.12" fill="#f04a42"/><rect x="851.46" y="391.12" width="12.40" height="13.55" fill="#eea060"/><rect x="851.46" y="404.67" width="12.40" height="139.32" fill="#f440f4"/><rect x="851.46" y="543.99" width="12.40" height="49.84" fill="#a3a3a3"/><rect x="851.46" y="161.53" width="12.40" height="1" fill="#e6f2ff" opacity="0.8"/><rect x="851.46" y="114.83" width="12.40" height="3" rx="2.5" fill="#bdbdbd"/><rect x="851.46" y="591.33" width="12.40" height="3" rx="2.5" fill="#8e8e8e"/><rect x="870.73" y="251.64" width="12.40" height="56.36" fill="#6a6af2"/><rect x="870.73" y="240.26" width="12.40" height="11.37" fill="#45c0f0"/><rect x="870.73" y="234.74" width="12.40" height="5.52" fill="#6e7c56"/><rect x="870.73" y="170.52" width="12.40" height="64.22" fill="#4fc37d"/><rect x="870.73" y="144.43" width="12.40" height="26.09" fill="#9b62c8"/><rect x="870.73" y="139.91" width="12.40" height="4.52" fill="#4a88c8"/><rect x="870.73" y="93.08" width="12.40" height="46.83" fill="#d2d2d2"/><rect x="870.73" y="308.00" width="12.40" height="90.48" fill="#f04a42"/><rect x="870.73" y="398.48" width="12.40" height="15.89" fill="#eea060"/><rect x="870.73" y="414.37" width="12.40" height="185.98" fill="#f440f4"/><rect x="870.73" y="600.35" width="12.40" height="48.00" fill="#a3a3a3"/><rect x="870.73" y="139.11" width="12.40" height="1" fill="#e6f2ff" opacity="0.8"/><rect x="870.73" y="92.58" width="12.40" height="3" rx="2.5" fill="#bdbdbd"/><rect x="870.73" y="645.85" width="12.40" height="3" rx="2.5" fill="#8e8e8e"/><rect x="890.00" y="250.13" width="12.40" height="57.87" fill="#6a6af2"/><rect x="890.00" y="237.59" width="12.40" height="12.54" fill="#45c0f0"/><rect x="890.00" y="231.57" width="12.40" height="6.02" fill="#6e7c56"/><rect x="890.00" y="164.00" width="12.40" height="67.57" fill="#4fc37d"/><rect x="890.00" y="132.39" width="12.40" height="31.61" fill="#9b62c8"/><rect x="890.00" y="130.21" width="12.40" height="2.17" fill="#4a88c8"/><rect x="890.00" y="77.86" width="12.40" height="52.35" fill="#d2d2d2"/><rect x="890.00" y="308.00" width="12.40" height="92.49" fill="#f04a42"/><rect x="890.00" y="400.49" width="12.40" height="16.73" fill="#eea060"/><rect x="890.00" y="417.21" width="12.40" height="188.99" fill="#f440f4"/><rect x="890.00" y="606.21" width="12.40" height="51.51" fill="#a3a3a3"/><rect x="890.00" y="129.41" width="12.40" height="1" fill="#e6f2ff" opacity="0.8"/><rect x="890.00" y="77.36" width="12.40" height="3" rx="2.5" fill="#bdbdbd"/><rect x="890.00" y="655.22" width="12.40" height="3" rx="2.5" fill="#8e8e8e"/><rect x="909.27" y="248.12" width="12.40" height="59.88" fill="#6a6af2"/><rect x="909.27" y="235.41" width="12.40" height="12.71" fill="#45c0f0"/><rect x="909.27" y="229.23" width="12.40" height="6.19" fill="#6e7c56"/><rect x="909.27" y="164.50" width="12.40" height="64.73" fill="#4fc37d"/><rect x="909.27" y="131.22" width="12.40" height="33.28" fill="#9b62c8"/><rect x="909.27" y="127.54" width="12.40" height="3.68" fill="#4a88c8"/><rect x="909.27" y="72.51" width="12.40" height="55.03" fill="#d2d2d2"/><rect x="909.27" y="308.00" width="12.40" height="95.33" fill="#f04a42"/><rect x="909.27" y="403.33" width="12.40" height="16.56" fill="#eea060"/><rect x="909.27" y="419.89" width="12.40" height="189.16" fill="#f440f4"/><rect x="909.27" y="609.05" width="12.40" height="53.02" fill="#a3a3a3"/><rect x="909.27" y="126.74" width="12.40" height="1" fill="#e6f2ff" opacity="0.8"/><rect x="909.27" y="72.01" width="12.40" height="3" rx="2.5" fill="#bdbdbd"/><rect x="909.27" y="659.57" width="12.40" height="3" rx="2.5" fill="#8e8e8e"/><rect x="928.54" y="245.95" width="12.40" height="62.05" fill="#6a6af2"/><rect x="928.54" y="231.90" width="12.40" height="14.05" fill="#45c0f0"/><rect x="928.54" y="226.05" width="12.40" height="5.85" fill="#6e7c56"/><rect x="928.54" y="146.60" width="12.40" height="79.44" fill="#4fc37d"/><rect x="928.54" y="108.30" width="12.40" height="38.30" fill="#9b62c8"/><rect x="928.54" y="102.95" width="12.40" height="5.35" fill="#4a88c8"/><rect x="928.54" y="46.42" width="12.40" height="56.53" fill="#d2d2d2"/><rect x="928.54" y="308.00" width="12.40" height="99.85" fill="#f04a42"/><rect x="928.54" y="407.85" width="12.40" height="17.56" fill="#eea060"/><rect x="928.54" y="425.41" width="12.40" height="237.16" fill="#f440f4"/><rect x="928.54" y="662.57" width="12.40" height="53.35" fill="#a3a3a3"/><rect x="928.54" y="102.15" width="12.40" height="1" fill="#e6f2ff" opacity="0.8"/><rect x="928.54" y="45.92" width="12.40" height="3" rx="2.5" fill="#bdbdbd"/><rect x="928.54" y="713.42" width="12.40" height="3" rx="2.5" fill="#8e8e8e"/><rect x="947.81" y="245.78" width="12.40" height="62.22" fill="#6a6af2"/><rect x="947.81" y="231.90" width="12.40" height="13.88" fill="#45c0f0"/><rect x="947.81" y="225.71" width="12.40" height="6.19" fill="#6e7c56"/><rect x="947.81" y="149.11" width="12.40" height="76.60" fill="#4fc37d"/><rect x="947.81" y="106.63" width="12.40" height="42.48" fill="#9b62c8"/><rect x="947.81" y="101.78" width="12.40" height="4.85" fill="#4a88c8"/><rect x="947.81" y="43.75" width="12.40" height="58.04" fill="#d2d2d2"/><rect x="947.81" y="308.00" width="12.40" height="102.36" fill="#f04a42"/><rect x="947.81" y="410.36" width="12.40" height="16.56" fill="#eea060"/><rect x="947.81" y="426.91" width="12.40" height="221.44" fill="#f440f4"/><rect x="947.81" y="648.35" width="12.40" height="55.03" fill="#a3a3a3"/><rect x="947.81" y="100.98" width="12.40" height="1" fill="#e6f2ff" opacity="0.8"/><rect x="947.81" y="43.25" width="12.40" height="3" rx="2.5" fill="#bdbdbd"/><rect x="947.81" y="700.88" width="12.40" height="3" rx="2.5" fill="#8e8e8e"/></g>
<g stroke="#fff" stroke-opacity="0.2" stroke-width="1.4">
<line x1="96.5" x2="963.5" y1="57.12" y2="57.12"/>
<line x1="96.5" x2="963.5" y1="140.75" y2="140.75"/>
<line x1="96.5" x2="963.5" y1="224.38" y2="224.38"/>
<line x1="96.5" x2="963.5" y1="391.62" y2="391.62"/>
<line x1="96.5" x2="963.5" y1="475.25" y2="475.25"/>
<line x1="96.5" x2="963.5" y1="558.88" y2="558.88"/>
<line x1="96.5" x2="963.5" y1="642.50" y2="642.50"/>
<line x1="96.5" x2="963.5" y1="726.12" y2="726.12"/>
</g>
<line x1="96.5" x2="972.5" y1="308" y2="308" stroke="#1a1a1a" stroke-width="1.7"/>
<g font-size="16.5" text-anchor="middle" dominant-baseline="central" letter-spacing="1.1"><text transform="translate(106.44,300.47) rotate(-90)" fill="#dcdcff">79</text><text transform="translate(106.44,285.34) rotate(-90)" fill="#1f6b3b">43</text><text transform="translate(106.44,327.57) rotate(-90)" fill="#ffd8d2">-234</text><text transform="translate(106.44,363.44) rotate(-90)" fill="#8a1f9c">-115</text><text transform="translate(125.70,301.14) rotate(-90)" fill="#dcdcff">87</text><text transform="translate(125.70,283.75) rotate(-90)" fill="#1f6b3b">48</text><text transform="translate(125.70,329.41) rotate(-90)" fill="#ffd8d2">-256</text><text transform="translate(125.70,365.78) rotate(-90)" fill="#8a1f9c">-125</text><text transform="translate(144.98,300.81) rotate(-90)" fill="#dcdcff">94</text><text transform="translate(144.98,282.16) rotate(-90)" fill="#1f6b3b">49</text><text transform="translate(144.98,331.41) rotate(-90)" fill="#ffd8d2">-280</text><text transform="translate(144.98,373.98) rotate(-90)" fill="#8a1f9c">-145</text><text transform="translate(164.25,299.39) rotate(-90)" fill="#dcdcff">102</text><text transform="translate(164.25,278.73) rotate(-90)" fill="#1f6b3b">76</text><text transform="translate(164.25,333.34) rotate(-90)" fill="#ffd8d2">-303</text><text transform="translate(164.25,384.02) rotate(-90)" fill="#8a1f9c">-193</text><text transform="translate(183.52,298.13) rotate(-90)" fill="#dcdcff">111</text><text transform="translate(183.52,276.22) rotate(-90)" fill="#1f6b3b">90</text><text transform="translate(183.52,335.09) rotate(-90)" fill="#ffd8d2">-324</text><text transform="translate(183.52,390.62) rotate(-90)" fill="#8a1f9c">-206</text><text transform="translate(202.79,298.13) rotate(-90)" fill="#dcdcff">118</text><text transform="translate(202.79,270.87) rotate(-90)" fill="#1f6b3b">117</text><text transform="translate(202.79,337.27) rotate(-90)" fill="#ffd8d2">-350</text><text transform="translate(202.79,400.57) rotate(-90)" fill="#8a1f9c">-269</text><text transform="translate(222.06,297.63) rotate(-90)" fill="#dcdcff">124</text><text transform="translate(222.06,264.60) rotate(-90)" fill="#1f6b3b">189</text><text transform="translate(222.06,340.70) rotate(-90)" fill="#ffd8d2">-391</text><text transform="translate(222.06,419.05) rotate(-90)" fill="#8a1f9c">-404</text><text transform="translate(241.33,296.38) rotate(-90)" fill="#dcdcff">139</text><text transform="translate(241.33,256.65) rotate(-90)" fill="#1f6b3b">250</text><text transform="translate(241.33,343.21) rotate(-90)" fill="#ffd8d2">-421</text><text transform="translate(241.33,435.19) rotate(-90)" fill="#8a1f9c">-523</text><text transform="translate(260.59,295.21) rotate(-90)" fill="#dcdcff">153</text><text transform="translate(260.59,249.04) rotate(-90)" fill="#1f6b3b">299</text><text transform="translate(260.59,346.05) rotate(-90)" fill="#ffd8d2">-455</text><text transform="translate(260.59,452.59) rotate(-90)" fill="#8a1f9c">-633</text><text transform="translate(279.87,293.11) rotate(-90)" fill="#dcdcff">178</text><text transform="translate(279.87,245.78) rotate(-90)" fill="#1f6b3b">276</text><text transform="translate(279.87,350.82) rotate(-90)" fill="#ffd8d2">-512</text><text transform="translate(279.87,462.04) rotate(-90)" fill="#8a1f9c">-598</text><text transform="translate(299.14,293.03) rotate(-90)" fill="#dcdcff">179</text><text transform="translate(299.14,247.12) rotate(-90)" fill="#1f6b3b">238</text><text transform="translate(299.14,354.41) rotate(-90)" fill="#ffd8d2">-555</text><text transform="translate(299.14,463.88) rotate(-90)" fill="#8a1f9c">-522</text><text transform="translate(318.41,293.28) rotate(-90)" fill="#dcdcff">176</text><text transform="translate(318.41,253.23) rotate(-90)" fill="#1f6b3b">167</text><text transform="translate(318.41,356.75) rotate(-90)" fill="#ffd8d2">-583</text><text transform="translate(318.41,459.53) rotate(-90)" fill="#8a1f9c">-388</text><text transform="translate(337.68,293.45) rotate(-90)" fill="#dcdcff">174</text><text transform="translate(337.68,254.48) rotate(-90)" fill="#1f6b3b">156</text><text transform="translate(337.68,356.84) rotate(-90)" fill="#ffd8d2">-584</text><text transform="translate(337.68,458.94) rotate(-90)" fill="#8a1f9c">-373</text><text transform="translate(356.94,293.53) rotate(-90)" fill="#dcdcff">173</text><text transform="translate(356.94,254.48) rotate(-90)" fill="#1f6b3b">164</text><text transform="translate(356.94,357.42) rotate(-90)" fill="#ffd8d2">-591</text><text transform="translate(356.94,462.29) rotate(-90)" fill="#8a1f9c">-399</text><text transform="translate(376.22,293.53) rotate(-90)" fill="#dcdcff">173</text><text transform="translate(376.22,254.40) rotate(-90)" fill="#1f6b3b">155</text><text transform="translate(376.22,357.26) rotate(-90)" fill="#ffd8d2">-589</text><text transform="translate(376.22,461.20) rotate(-90)" fill="#8a1f9c">-378</text><text transform="translate(395.49,292.53) rotate(-90)" fill="#dcdcff">185</text><text transform="translate(395.49,251.72) rotate(-90)" fill="#1f6b3b">181</text><text transform="translate(395.49,358.93) rotate(-90)" fill="#ffd8d2">-609</text><text transform="translate(395.49,472.49) rotate(-90)" fill="#8a1f9c">-467</text><text transform="translate(414.75,293.03) rotate(-90)" fill="#dcdcff">179</text><text transform="translate(414.75,253.98) rotate(-90)" fill="#1f6b3b">150</text><text transform="translate(414.75,357.17) rotate(-90)" fill="#ffd8d2">-588</text><text transform="translate(414.75,465.72) rotate(-90)" fill="#8a1f9c">-402</text><text transform="translate(434.02,293.11) rotate(-90)" fill="#dcdcff">178</text><text transform="translate(434.02,253.39) rotate(-90)" fill="#1f6b3b">126</text><text transform="translate(434.02,357.00) rotate(-90)" fill="#ffd8d2">-586</text><text transform="translate(434.02,462.04) rotate(-90)" fill="#8a1f9c">-368</text><text transform="translate(453.30,292.70) rotate(-90)" fill="#dcdcff">183</text><text transform="translate(453.30,254.15) rotate(-90)" fill="#1f6b3b">132</text><text transform="translate(453.30,353.49) rotate(-90)" fill="#ffd8d2">-544</text><text transform="translate(453.30,454.01) rotate(-90)" fill="#8a1f9c">-392</text><text transform="translate(472.56,292.11) rotate(-90)" fill="#dcdcff">190</text><text transform="translate(472.56,248.63) rotate(-90)" fill="#1f6b3b">199</text><text transform="translate(472.56,351.99) rotate(-90)" fill="#ffd8d2">-526</text><text transform="translate(472.56,464.04) rotate(-90)" fill="#8a1f9c">-574</text><text transform="translate(491.83,292.36) rotate(-90)" fill="#dcdcff">187</text><text transform="translate(491.83,252.05) rotate(-90)" fill="#1f6b3b">155</text><text transform="translate(491.83,349.90) rotate(-90)" fill="#ffd8d2">-501</text><text transform="translate(491.83,451.58) rotate(-90)" fill="#8a1f9c">-461</text><text transform="translate(511.11,291.78) rotate(-90)" fill="#dcdcff">194</text><text transform="translate(511.11,252.14) rotate(-90)" fill="#1f6b3b">123</text><text transform="translate(511.11,348.56) rotate(-90)" fill="#ffd8d2">-485</text><text transform="translate(511.11,441.63) rotate(-90)" fill="#8a1f9c">-386</text><text transform="translate(530.38,292.36) rotate(-90)" fill="#dcdcff">187</text><text transform="translate(530.38,252.39) rotate(-90)" fill="#1f6b3b">119</text><text transform="translate(530.38,346.55) rotate(-90)" fill="#ffd8d2">-461</text><text transform="translate(530.38,432.10) rotate(-90)" fill="#8a1f9c">-330</text><text transform="translate(549.64,291.44) rotate(-90)" fill="#dcdcff">198</text><text transform="translate(549.64,244.44) rotate(-90)" fill="#1f6b3b">206</text><text transform="translate(549.64,344.13) rotate(-90)" fill="#ffd8d2">-432</text><text transform="translate(549.64,441.30) rotate(-90)" fill="#8a1f9c">-506</text><text transform="translate(568.91,292.11) rotate(-90)" fill="#dcdcff">190</text><text transform="translate(568.91,245.28) rotate(-90)" fill="#1f6b3b">210</text><text transform="translate(568.91,345.38) rotate(-90)" fill="#ffd8d2">-447</text><text transform="translate(568.91,445.06) rotate(-90)" fill="#8a1f9c">-545</text><text transform="translate(588.18,291.78) rotate(-90)" fill="#dcdcff">194</text><text transform="translate(588.18,235.58) rotate(-90)" fill="#1f6b3b">314</text><text transform="translate(588.18,347.39) rotate(-90)" fill="#ffd8d2">-471</text><text transform="translate(588.18,466.22) rotate(-90)" fill="#8a1f9c">-802</text><text transform="translate(607.45,292.11) rotate(-90)" fill="#dcdcff">190</text><text transform="translate(607.45,233.66) rotate(-90)" fill="#1f6b3b">337</text><text transform="translate(607.45,347.55) rotate(-90)" fill="#ffd8d2">-473</text><text transform="translate(607.45,471.57) rotate(-90)" fill="#8a1f9c">-862</text><text transform="translate(626.72,292.36) rotate(-90)" fill="#dcdcff">187</text><text transform="translate(626.72,245.53) rotate(-90)" fill="#1f6b3b">197</text><text transform="translate(626.72,346.05) rotate(-90)" fill="#ffd8d2">-455</text><text transform="translate(626.72,446.32) rotate(-90)" fill="#8a1f9c">-576</text><text transform="translate(645.99,292.19) rotate(-90)" fill="#dcdcff">189</text><text transform="translate(645.99,249.13) rotate(-90)" fill="#1f6b3b">140</text><text transform="translate(645.99,347.39) rotate(-90)" fill="#ffd8d2">-471</text><text transform="translate(645.99,432.10) rotate(-90)" fill="#8a1f9c">-386</text><text transform="translate(665.26,291.86) rotate(-90)" fill="#dcdcff">193</text><text transform="translate(665.26,246.54) rotate(-90)" fill="#1f6b3b">150</text><text transform="translate(665.26,345.97) rotate(-90)" fill="#ffd8d2">-454</text><text transform="translate(665.26,435.70) rotate(-90)" fill="#8a1f9c">-463</text><text transform="translate(684.53,290.86) rotate(-90)" fill="#dcdcff">205</text><text transform="translate(684.53,244.86) rotate(-90)" fill="#1f6b3b">163</text><text transform="translate(684.53,344.71) rotate(-90)" fill="#ffd8d2">-439</text><text transform="translate(684.53,434.02) rotate(-90)" fill="#8a1f9c">-467</text><text transform="translate(703.80,290.44) rotate(-90)" fill="#dcdcff">210</text><text transform="translate(703.80,244.70) rotate(-90)" fill="#1f6b3b">168</text><text transform="translate(703.80,344.38) rotate(-90)" fill="#ffd8d2">-435</text><text transform="translate(703.80,432.52) rotate(-90)" fill="#8a1f9c">-473</text><text transform="translate(723.07,289.69) rotate(-90)" fill="#dcdcff">219</text><text transform="translate(723.07,239.68) rotate(-90)" fill="#1f6b3b">216</text><text transform="translate(723.07,344.13) rotate(-90)" fill="#ffd8d2">-432</text><text transform="translate(723.07,441.38) rotate(-90)" fill="#8a1f9c">-587</text><text transform="translate(742.34,289.02) rotate(-90)" fill="#dcdcff">227</text><text transform="translate(742.34,233.41) rotate(-90)" fill="#1f6b3b">272</text><text transform="translate(742.34,344.54) rotate(-90)" fill="#ffd8d2">-437</text><text transform="translate(742.34,452.00) rotate(-90)" fill="#8a1f9c">-708</text><text transform="translate(761.61,288.01) rotate(-90)" fill="#dcdcff">239</text><text transform="translate(761.61,224.71) rotate(-90)" fill="#1f6b3b">338</text><text transform="translate(761.61,344.71) rotate(-90)" fill="#ffd8d2">-439</text><text transform="translate(761.61,467.22) rotate(-90)" fill="#8a1f9c">-878</text><text transform="translate(780.88,286.93) rotate(-90)" fill="#dcdcff">252</text><text transform="translate(780.88,221.78) rotate(-90)" fill="#1f6b3b">342</text><text transform="translate(780.88,344.88) rotate(-90)" fill="#ffd8d2">-441</text><text transform="translate(780.88,463.71) rotate(-90)" fill="#8a1f9c">-840</text><text transform="translate(800.15,285.76) rotate(-90)" fill="#dcdcff">266</text><text transform="translate(800.15,217.27) rotate(-90)" fill="#1f6b3b">367</text><text transform="translate(800.15,346.13) rotate(-90)" fill="#ffd8d2">-456</text><text transform="translate(800.15,472.49) rotate(-90)" fill="#8a1f9c">-914</text><text transform="translate(819.42,284.67) rotate(-90)" fill="#dcdcff">279</text><text transform="translate(819.42,208.40) rotate(-90)" fill="#1f6b3b">456</text><text transform="translate(819.42,346.55) rotate(-90)" fill="#ffd8d2">-461</text><text transform="translate(819.42,488.96) rotate(-90)" fill="#8a1f9c">-1,096</text><text transform="translate(838.69,284.08) rotate(-90)" fill="#dcdcff">286</text><text transform="translate(838.69,214.01) rotate(-90)" fill="#1f6b3b">374</text><text transform="translate(838.69,348.14) rotate(-90)" fill="#ffd8d2">-480</text><text transform="translate(838.69,482.11) rotate(-90)" fill="#8a1f9c">-976</text><text transform="translate(857.96,283.50) rotate(-90)" fill="#dcdcff">293</text><text transform="translate(857.96,216.18) rotate(-90)" fill="#1f6b3b">312</text><text transform="translate(857.96,349.56) rotate(-90)" fill="#ffd8d2">-497</text><text transform="translate(857.96,474.33) rotate(-90)" fill="#8a1f9c">-833</text><text transform="translate(877.23,279.82) rotate(-90)" fill="#dcdcff">337</text><text transform="translate(877.23,202.63) rotate(-90)" fill="#1f6b3b">384</text><text transform="translate(877.23,353.24) rotate(-90)" fill="#ffd8d2">-541</text><text transform="translate(877.23,507.36) rotate(-90)" fill="#8a1f9c">-1,108</text><text transform="translate(896.50,279.07) rotate(-90)" fill="#dcdcff">346</text><text transform="translate(896.50,197.78) rotate(-90)" fill="#1f6b3b">403</text><text transform="translate(896.50,354.24) rotate(-90)" fill="#ffd8d2">-553</text><text transform="translate(896.50,511.71) rotate(-90)" fill="#8a1f9c">-1,130</text><text transform="translate(915.77,278.06) rotate(-90)" fill="#dcdcff">358</text><text transform="translate(915.77,196.86) rotate(-90)" fill="#1f6b3b">383</text><text transform="translate(915.77,355.67) rotate(-90)" fill="#ffd8d2">-570</text><text transform="translate(915.77,514.47) rotate(-90)" fill="#8a1f9c">-1,128</text><text transform="translate(935.04,276.98) rotate(-90)" fill="#dcdcff">371</text><text transform="translate(935.04,186.33) rotate(-90)" fill="#1f6b3b">475</text><text transform="translate(935.04,357.92) rotate(-90)" fill="#ffd8d2">-597</text><text transform="translate(935.04,543.99) rotate(-90)" fill="#8a1f9c">-1,412</text><text transform="translate(954.31,276.89) rotate(-90)" fill="#dcdcff">372</text><text transform="translate(954.31,187.41) rotate(-90)" fill="#1f6b3b">458</text><text transform="translate(954.31,359.18) rotate(-90)" fill="#ffd8d2">-612</text><text transform="translate(954.31,537.63) rotate(-90)" fill="#8a1f9c">-1,323</text><text transform="translate(954.31,127.87) rotate(-90)" fill="#4a2070">254</text></g>
<polyline points="106.14,346.30 125.41,348.81 144.68,353.32 163.94,358.34 183.22,362.19 202.49,369.38 221.75,383.93 241.03,395.97 260.29,407.85 279.56,414.37 298.84,411.53 318.11,408.02 337.38,410.52 356.64,416.38 375.92,414.87 395.19,426.41 414.45,419.22 433.72,415.04 453.00,408.35 472.26,425.24 491.53,406.84 510.81,397.98 530.08,388.78 549.35,391.96 568.62,413.37 587.88,436.45 607.15,438.46 626.42,413.37 645.69,395.64 664.97,398.48 684.24,391.79 703.50,387.28 722.77,393.63 742.04,399.32 761.31,411.69 780.59,401.99 799.86,409.35 819.12,422.90 838.39,414.87 857.66,401.16 876.93,433.44 896.20,427.58 915.48,426.58 934.75,454.34 954.01,439.12" fill="none" stroke="#000" stroke-width="5.8" stroke-linejoin="round"/>
<g fill="#000" stroke="#fff" stroke-width="2"><circle cx="106.14" cy="346.30" r="6.0"/><circle cx="125.41" cy="348.81" r="6.0"/><circle cx="144.68" cy="353.32" r="6.0"/><circle cx="163.94" cy="358.34" r="6.0"/><circle cx="183.22" cy="362.19" r="6.0"/><circle cx="202.49" cy="369.38" r="6.0"/><circle cx="221.75" cy="383.93" r="6.0"/><circle cx="241.03" cy="395.97" r="6.0"/><circle cx="260.29" cy="407.85" r="6.0"/><circle cx="279.56" cy="414.37" r="6.0"/><circle cx="298.84" cy="411.53" r="6.0"/><circle cx="318.11" cy="408.02" r="6.0"/><circle cx="337.38" cy="410.52" r="6.0"/><circle cx="356.64" cy="416.38" r="6.0"/><circle cx="375.92" cy="414.87" r="6.0"/><circle cx="395.19" cy="426.41" r="6.0"/><circle cx="414.45" cy="419.22" r="6.0"/><circle cx="433.72" cy="415.04" r="6.0"/><circle cx="453.00" cy="408.35" r="6.0"/><circle cx="472.26" cy="425.24" r="6.0"/><circle cx="491.53" cy="406.84" r="6.0"/><circle cx="510.81" cy="397.98" r="6.0"/><circle cx="530.08" cy="388.78" r="6.0"/><circle cx="549.35" cy="391.96" r="6.0"/><circle cx="568.62" cy="413.37" r="6.0"/><circle cx="587.88" cy="436.45" r="6.0"/><circle cx="607.15" cy="438.46" r="6.0"/><circle cx="626.42" cy="413.37" r="6.0"/><circle cx="645.69" cy="395.64" r="6.0"/><circle cx="664.97" cy="398.48" r="6.0"/><circle cx="684.24" cy="391.79" r="6.0"/><circle cx="703.50" cy="387.28" r="6.0"/><circle cx="722.77" cy="393.63" r="6.0"/><circle cx="742.04" cy="399.32" r="6.0"/><circle cx="761.31" cy="411.69" r="6.0"/><circle cx="780.59" cy="401.99" r="6.0"/><circle cx="799.86" cy="409.35" r="6.0"/><circle cx="819.12" cy="422.90" r="6.0"/><circle cx="838.39" cy="414.87" r="6.0"/><circle cx="857.66" cy="401.16" r="6.0"/><circle cx="876.93" cy="433.44" r="6.0"/><circle cx="896.20" cy="427.58" r="6.0"/><circle cx="915.48" cy="426.58" r="6.0"/><circle cx="934.75" cy="454.34" r="6.0"/><circle cx="954.01" cy="439.12" r="6.0"/></g>
<g fill="#828282" font-size="17" text-anchor="end" letter-spacing="1">
<text transform="translate(106.64,734.5) rotate(-90)" dominant-baseline="central">1980</text>
<text transform="translate(145.18,734.5) rotate(-90)" dominant-baseline="central">1982</text>
<text transform="translate(183.72,734.5) rotate(-90)" dominant-baseline="central">1984</text>
<text transform="translate(222.25,734.5) rotate(-90)" dominant-baseline="central">1986</text>
<text transform="translate(260.79,734.5) rotate(-90)" dominant-baseline="central">1988</text>
<text transform="translate(299.34,734.5) rotate(-90)" dominant-baseline="central">1990</text>
<text transform="translate(337.88,734.5) rotate(-90)" dominant-baseline="central">1992</text>
<text transform="translate(376.42,734.5) rotate(-90)" dominant-baseline="central">1994</text>
<text transform="translate(414.95,734.5) rotate(-90)" dominant-baseline="central">1996</text>
<text transform="translate(453.50,734.5) rotate(-90)" dominant-baseline="central">1998</text>
<text transform="translate(492.03,734.5) rotate(-90)" dominant-baseline="central">2000</text>
<text transform="translate(530.58,734.5) rotate(-90)" dominant-baseline="central">2002</text>
<text transform="translate(569.12,734.5) rotate(-90)" dominant-baseline="central">2004</text>
<text transform="translate(607.65,734.5) rotate(-90)" dominant-baseline="central">2006</text>
<text transform="translate(646.19,734.5) rotate(-90)" dominant-baseline="central">2008</text>
<text transform="translate(684.74,734.5) rotate(-90)" dominant-baseline="central">2010</text>
<text transform="translate(723.27,734.5) rotate(-90)" dominant-baseline="central">2012</text>
<text transform="translate(761.81,734.5) rotate(-90)" dominant-baseline="central">2014</text>
<text transform="translate(800.36,734.5) rotate(-90)" dominant-baseline="central">2016</text>
<text transform="translate(838.89,734.5) rotate(-90)" dominant-baseline="central">2018</text>
<text transform="translate(877.43,734.5) rotate(-90)" dominant-baseline="central">2020</text>
<text transform="translate(915.98,734.5) rotate(-90)" dominant-baseline="central">2022</text>
<text transform="translate(954.51,734.5) rotate(-90)" dominant-baseline="central">2024</text>
</g>
<rect x="487" y="8" width="226" height="66" fill="#fff"/>
<g font-size="22.5" fill="#555" text-anchor="middle" dominant-baseline="central" font-family='"Liberation Sans", "Noto Sans CJK JP", sans-serif'>
<text x="600" y="27">資金循環 ストック</text>
<text x="600" y="57">非金融法人企業 年度</text>
</g>
<g font-size="15" dominant-baseline="central" font-family='"Liberation Sans", "Noto Sans CJK JP", sans-serif'>
<text x="972.5" y="46.4" fill="#cfcfcf">資産：その他</text>
<text x="972.8" y="100.4" fill="#7aa0d6">資産：対外証券投資</text>
<text x="970.2" y="127.0" fill="#9a66c4">資産：対外直接投資</text>
<text x="970.2" y="185.2" fill="#55c080">資産：株式等・投資信託受益証券</text>
<text x="970.2" y="226.0" fill="#707062">資産：債務証券</text>
<text x="970.2" y="242.7" fill="#4cc4f2">資産：貸出</text>
<text x="970.2" y="274.5" fill="#7878ea">資産：現金・預金</text>
<text x="971.6" y="366.7" fill="#ec5a4e">負債：貸出</text>
<text x="971.6" y="411.6" fill="#f0a468">負債：債務証券</text>
<text x="971.6" y="570.0" fill="#f052f0">負債：株式等・投資信託受益証券</text>
<text x="984.0" y="693.0" fill="#b8b8b8">負債：その他</text>
<text x="986" y="17.6" fill="#555">金融資産</text>
<text x="1046" y="17.6" fill="#555" font-size="16.5" textLength="53" lengthAdjust="spacing">, 1,580</text>
<text x="916.5" y="25.9" fill="#555" text-anchor="end" font-size="16.5" textLength="44" lengthAdjust="spacing">1,564</text>
<text x="983.5" y="429.3" fill="#333">金融資産・負債差額</text>
<text x="1119" y="429.3" fill="#333" font-size="16.5" textLength="45" lengthAdjust="spacing">, -784</text>
<text x="981.5" y="721.8" fill="#555">負債</text>
<text x="1012" y="721.8" fill="#555" font-size="16.5" textLength="60" lengthAdjust="spacing">, -2,364</text>
<text x="912.5" y="721.3" fill="#555" text-anchor="end" font-size="16.5" textLength="54" lengthAdjust="spacing">-2,439</text>
</g>
<g fill="none" stroke="#888" stroke-width="1.3">
<polyline points="980.4,17.6 973.9,17.6 953.5,43.8"/>
<polyline points="923.5,25.7 931.1,25.7 934.9,46.5"/>
<path d="M978.3,429 L971,429.3 Q964,430 956,437"/>
<polyline points="953.8,704 968.8,720.1 975.5,720.1"/>
<path d="M919,721 L926,720.6 Q931,719.5 935,715.5"/>
</g>
<g fill="none" stroke="#c5cccc" stroke-width="1.6"><path d="M1200.5,246 Q1197.5,252 1200.5,258"/><path d="M1200.5,388.5 Q1197.5,394.5 1200.5,400.5"/></g>
</svg></body></html>
